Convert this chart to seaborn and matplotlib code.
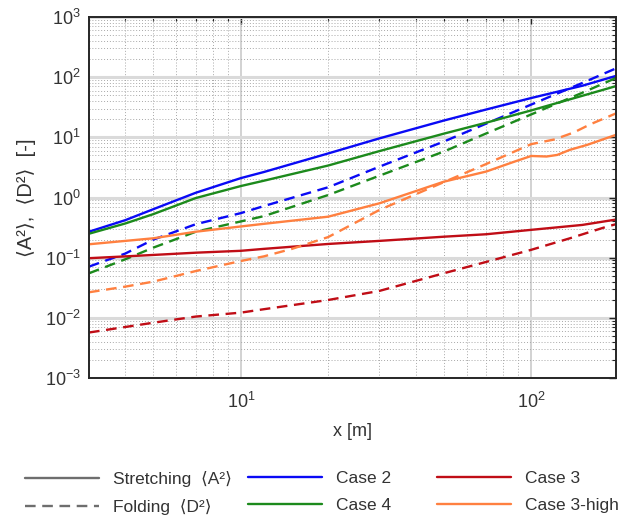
import matplotlib
matplotlib.use("Agg")
import matplotlib.pyplot as plt
import seaborn as sns
import pandas as pd
from matplotlib.lines import Line2D
from matplotlib.ticker import LogLocator, NullFormatter, FixedLocator

# ---------------- data ----------------
x_common = [3, 4, 5, 7, 10, 12, 20, 30, 50, 70, 100, 150, 196]
case2_A = [0.27, 0.42, 0.64, 1.2, 2.1, 2.65, 5.4, 9.6, 19, 29, 45, 72, 105]
case2_D = [0.071, 0.117, 0.20, 0.36, 0.55, 0.72, 1.48, 3.25, 8.5, 16.9, 35, 80, 140]
case4_A = [0.25, 0.37, 0.53, 0.98, 1.55, 1.9, 3.4, 5.9, 11.5, 17.5, 28, 49, 71]
case4_D = [0.055, 0.094, 0.147, 0.27, 0.40, 0.49, 1.1, 2.3, 5.8, 11.6, 24, 55, 97]
case3_A = [0.098, 0.105, 0.111, 0.121, 0.13, 0.14, 0.169, 0.19, 0.223, 0.245, 0.29, 0.35, 0.43]
case3_x_D = [3, 5, 7, 10, 12, 20, 30, 50, 70, 100, 136, 183, 196]
case3_D = [0.0057, 0.0083, 0.0105, 0.0122, 0.0139, 0.0198, 0.028, 0.055, 0.085, 0.135, 0.21, 0.33, 0.36]
case3h_x_A = [3, 5, 7, 10, 12, 20, 30, 50, 70, 87, 100, 113, 123, 136, 156, 196]
case3h_A = [0.167, 0.21, 0.27, 0.33, 0.365, 0.48, 0.80, 1.83, 2.7, 3.9, 4.9, 4.8, 5.1, 6.2, 7.5, 11]
case3h_x_D = [3, 4, 5, 7, 10, 12, 15, 20, 30, 50, 70, 100, 120, 140, 160, 196]
case3h_D = [0.0266, 0.033, 0.040, 0.060, 0.088, 0.105, 0.14, 0.22, 0.62, 1.8, 3.6, 7.7, 9.2, 12, 16.5, 25]

case_names = ["Case 2", "Case 4", "Case 3", "Case 3-high"]
kind_names = ["Stretching", "Folding"]
y_ticks = [1e-3, 1e-2, 1e-1, 1e0, 1e1, 1e2, 1e3]
x_ticks = [10, 100]

series = [
    ("Case 2", "Stretching", x_common, case2_A),
    ("Case 2", "Folding", x_common, case2_D),
    ("Case 4", "Stretching", x_common, case4_A),
    ("Case 4", "Folding", x_common, case4_D),
    ("Case 3", "Stretching", x_common, case3_A),
    ("Case 3", "Folding", case3_x_D, case3_D),
    ("Case 3-high", "Stretching", case3h_x_A, case3h_A),
    ("Case 3-high", "Folding", case3h_x_D, case3h_D),
]
rows = []
for case, kind, xs, ys in series:
    for xv, yv in zip(xs, ys):
        rows.append({"x": xv, "y": yv, "case": case, "kind": kind})
df = pd.DataFrame(rows)

# ---------------- style ----------------
sns.set_style("white")
plt.rcParams["font.family"] = ["Liberation Sans", "DejaVu Sans"]
plt.rcParams["mathtext.fontset"] = "custom"
plt.rcParams["mathtext.rm"] = "Liberation Sans"
plt.rcParams["mathtext.it"] = "Liberation Sans:italic"
plt.rcParams["mathtext.bf"] = "Liberation Sans:bold"

FS = 12.5
TFS = 13
palette = {"Case 2": "#0a0af5", "Case 4": "#1c8a1c", "Case 3": "#c00d16", "Case 3-high": "#ff8040"}
dash = (4.5, 2.8)

fig = plt.figure(figsize=(6.19, 5.19), dpi=100)
ax = fig.add_axes([89 / 619, 1 - 378 / 519, (616 - 89) / 619, (378 - 17) / 519])

sns.lineplot(data=df, x="x", y="y", hue="case", style="kind",
             hue_order=case_names, style_order=kind_names,
             palette=palette, dashes={"Stretching": "", "Folding": dash},
             linewidth=1.7, legend=False, ax=ax, estimator=None, sort=True)

ax.set_xscale("log")
ax.set_yscale("log")
ax.set_xlim(3, 196)
ax.set_ylim(1e-3, 1e3)

ax.yaxis.set_major_locator(FixedLocator(y_ticks))
ax.xaxis.set_major_locator(FixedLocator(x_ticks))
ax.yaxis.set_minor_locator(LogLocator(base=10, subs=range(2, 10), numticks=50))
ax.xaxis.set_minor_locator(LogLocator(base=10, subs=range(2, 10), numticks=50))
ax.xaxis.set_minor_formatter(NullFormatter())
ax.yaxis.set_minor_formatter(NullFormatter())

# grid
ax.set_axisbelow(True)
ax.grid(True, which="major", axis="y", color="#dadada", linewidth=2.2, linestyle="-")
ax.grid(True, which="major", axis="x", color="#cfcfcf", linewidth=1.3, linestyle="-")
ax.grid(True, which="minor", color="#a8a8a8", linewidth=0.7, linestyle=(0, (1, 2)))

for s in ax.spines.values():
    s.set_color("#262626")
    s.set_linewidth(1.4)

ax.tick_params(which="both", direction="in", top=True, right=True, colors="#262626",
               labelcolor="#333333", labelsize=TFS)
ax.tick_params(which="major", length=5, width=1.0)
ax.tick_params(which="minor", length=3, width=0.8)
ax.tick_params(axis="x", which="major", pad=10)
ax.tick_params(axis="y", which="major", pad=6)

ax.set_xlabel("x [m]", fontsize=TFS, color="#333333", labelpad=8)
ax.set_ylabel("\u27e8A\u00b2\u27e9,  \u27e8D\u00b2\u27e9  [-]",
              fontsize=TFS + 1.5, color="#333333", labelpad=6)

# legends (three columns placed separately)
gray = "#6e6e6e"
cols = [
    (25, [Line2D([], [], color=gray, lw=1.7),
          Line2D([], [], color=gray, lw=1.7, dashes=dash)],
         ["Stretching  \u27e8A\u00b2\u27e9", "Folding  \u27e8D\u00b2\u27e9"]),
    (248, [Line2D([], [], color=palette["Case 2"], lw=1.7),
           Line2D([], [], color=palette["Case 4"], lw=1.7)],
          ["Case 2", "Case 4"]),
    (437, [Line2D([], [], color=palette["Case 3"], lw=1.7),
           Line2D([], [], color=palette["Case 3-high"], lw=1.7)],
          ["Case 3", "Case 3-high"]),
]
for xpx, hs, ls in cols:
    fig.legend(hs, ls, loc="upper left", bbox_to_anchor=(xpx / 619, 1 - 471 / 519),
               frameon=False, fontsize=FS, handlelength=4.25, handletextpad=0.8,
               borderpad=0, borderaxespad=0, labelspacing=0.68, labelcolor="#333333")

fig.savefig("out.png", dpi=100)
